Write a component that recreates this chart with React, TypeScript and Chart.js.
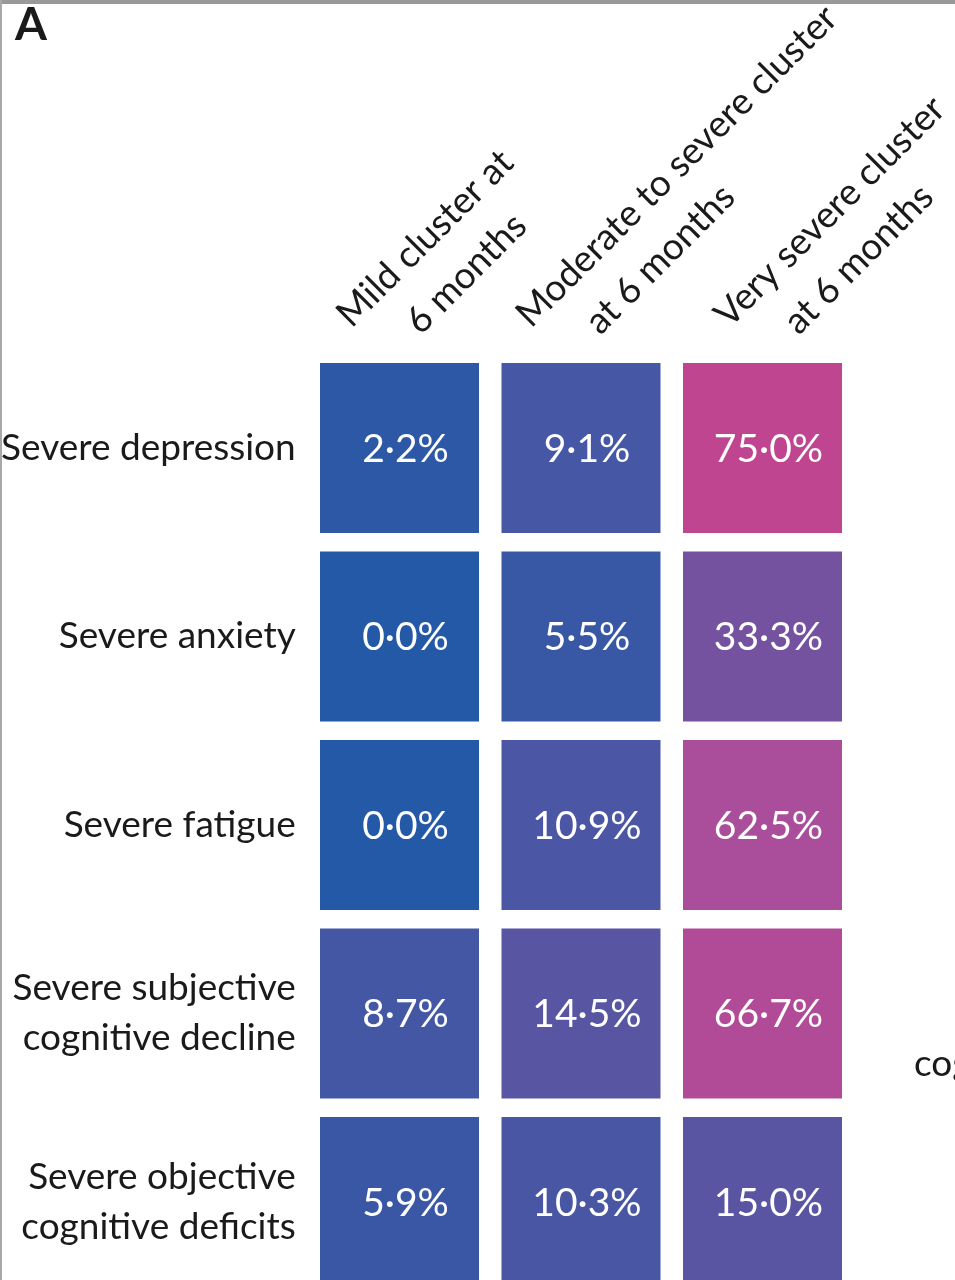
import React, { useEffect, useRef } from "react";
import { Chart, registerables } from "chart.js";

Chart.register(...registerables);

// ---------- data ----------
const ROW_LABELS: (string | string[])[] = [
  "Severe depression",
  "Severe anxiety",
  "Severe fatigue",
  ["Severe subjective", "cognitive decline"],
  ["Severe objective", "cognitive deficits"],
];
const COLUMN_KEYS = [
  "Mild cluster at 6 months",
  "Moderate to severe cluster at 6 months",
  "Very severe cluster at 6 months",
];
const COLUMN_HEADER_LINES = [
  ["Mild cluster at", "6 months"],
  ["Moderate to severe cluster", "at 6 months"],
  ["Very severe cluster", "at 6 months"],
];
const MILD = [2.2, 0.0, 0.0, 8.7, 5.9];
const MODERATE = [9.1, 5.5, 10.9, 14.5, 10.3];
const VERY_SEVERE = [75.0, 33.3, 62.5, 66.7, 15.0];
const SERIES = [MILD, MODERATE, VERY_SEVERE];

// ---------- styling ----------
const FONT = 'Lato, "Open Sans", "DejaVu Sans", sans-serif';
const HEADER_SHIFT = [-48, -50, -33];
const COLOR_STOPS: [number, [number, number, number]][] = [
  [0, [0x24, 0x59, 0xa7]],
  [15, [0x5a, 0x55, 0xa3]],
  [33.3, [0x75, 0x52, 0xa0]],
  [62.5, [0xaa, 0x4d, 0x9a]],
  [75, [0xc0, 0x45, 0x90]],
];

function colorFor(v: number): string {
  let c = COLOR_STOPS[COLOR_STOPS.length - 1][1];
  for (let i = 0; i < COLOR_STOPS.length - 1; i++) {
    const [a, ca] = COLOR_STOPS[i];
    const [b, cb] = COLOR_STOPS[i + 1];
    if (v <= b) {
      const t = Math.max(0, (v - a) / (b - a));
      c = [0, 1, 2].map((k) => Math.round(ca[k] + (cb[k] - ca[k]) * t)) as any;
      break;
    }
  }
  return `rgb(${c[0]},${c[1]},${c[2]})`;
}

const fmt = (v: number) => v.toFixed(1).replace(".", "\u00B7") + "%";

const HALF = 0.451;

const overlayPlugin = {
  id: "overlay",
  afterDatasetsDraw(chart: any) {
    const { ctx, scales } = chart;
    const xs = scales.x;
    const ys = scales.y;
    ctx.save();
    ctx.fillStyle = "#ffffff";
    ctx.font = `39px ${FONT}`;
    ctx.textAlign = "center";
    ctx.textBaseline = "middle";
    SERIES.forEach((vals, c) => {
      vals.forEach((v, r) => {
        const x = xs.getPixelForValue(c) + 6;
        const y = ys.getPixelForValue(r + 1) + 1;
        ctx.fillText(fmt(v), x, y);
      });
    });
    ctx.restore();
  },
  afterDraw(chart: any) {
    const { ctx, scales } = chart;
    const xs = scales.x;
    ctx.save();
    ctx.fillStyle = "#1a1a1a";
    ctx.font = `37px ${FONT}`;
    ctx.textAlign = "left";
    ctx.textBaseline = "alphabetic";
    COLUMN_HEADER_LINES.forEach((lines, c) => {
      const x0 = xs.getPixelForValue(c) + HEADER_SHIFT[c];
      const y0 = 329;
      ctx.save();
      ctx.translate(x0, y0);
      ctx.rotate(-Math.PI / 4);
      ctx.fillText(lines[0], 0, 0);
      ctx.fillText(lines[1], 44, 54);
      ctx.restore();
    });
    ctx.restore();
  },
};

export default function App() {
  const ref = useRef<HTMLCanvasElement | null>(null);

  useEffect(() => {
    if (!ref.current) return;
    const datasets = SERIES.map((vals, c) => ({
      label: COLUMN_KEYS[c],
      data: vals.map((_, r) => ({ x: COLUMN_KEYS[c], y: [r + 1 - HALF, r + 1 + HALF] })),
      backgroundColor: vals.map((v) => colorFor(v)),
      borderWidth: 0,
      grouped: false,
      barPercentage: 0.876,
      categoryPercentage: 1,
    }));
    const chart = new Chart(ref.current, {
      type: "bar",
      data: { labels: COLUMN_KEYS, datasets: datasets as any },
      options: {
        animation: false,
        responsive: false,
        events: [],
        layout: { padding: { top: 353.75, right: 101.75, bottom: 0, left: 0 } },
        plugins: { legend: { display: false }, tooltip: { enabled: false } },
        scales: {
          x: { type: "category", display: false },
          y: {
            type: "linear",
            reverse: true,
            min: 0.5,
            max: 5.414,
            grid: { display: false, drawTicks: false },
            border: { display: false },
            afterBuildTicks: (scale: any) => {
              scale.ticks = ROW_LABELS.map((_, i) => ({ value: i + 1 }));
            },
            afterFit: (scale: any) => {
              scale.width = 308.75;
              scale.paddingTop = 0;
              scale.paddingBottom = 0;
            },
            ticks: {
              padding: 13,
              color: "#1a1a1a",
              font: { family: FONT, size: 37, lineHeight: 1.35 },
              callback: (value: any) => ROW_LABELS[Math.round(Number(value)) - 1] as any,
            },
          },
        },
      } as any,
      plugins: [overlayPlugin],
    });
    return () => chart.destroy();
  }, []);

  return (
    <div
      style={{
        position: "absolute",
        left: 0,
        top: 0,
        width: 955,
        height: 1280,
        overflow: "hidden",
        background: "#ffffff",
      }}
    >
      <canvas
        ref={ref}
        width={955}
        height={1280}
        style={{ position: "absolute", left: 0, top: 0, width: 955, height: 1280 }}
      />
      <div style={{ position: "absolute", left: 0, top: 0, width: 955, height: 4, background: "#999999" }} />
      <div style={{ position: "absolute", left: 0, top: 0, width: 2, height: 1280, background: "#a8a8a8" }} />
      <div
        style={{
          position: "absolute",
          left: 15,
          top: -4,
          fontFamily: FONT,
          fontWeight: 700,
          fontSize: 46,
          lineHeight: "54px",
          color: "#1a1a1a",
        }}
      >
        A
      </div>
      <div
        style={{
          position: "absolute",
          left: 914,
          top: 1040,
          fontFamily: FONT,
          fontSize: 37,
          lineHeight: "44px",
          color: "#1a1a1a",
          whiteSpace: "nowrap",
        }}
      >
        cognitive
      </div>
    </div>
  );
}
